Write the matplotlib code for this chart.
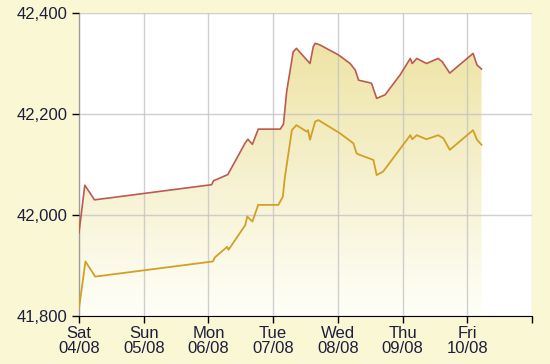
import numpy as np
import matplotlib.pyplot as plt
from matplotlib.colors import LinearSegmentedColormap

# day offsets from Sat 04/08
sell_x = [0.0, 0.09, 0.24, 2.05, 2.08, 2.12, 2.30, 2.57, 2.61, 2.68, 2.77, 3.11, 3.16, 3.21,
          3.31, 3.36, 3.57, 3.62, 3.65, 3.72, 4.01, 4.19, 4.27, 4.32, 4.52, 4.60, 4.73, 4.96,
          5.12, 5.15, 5.22, 5.37, 5.55, 5.61, 5.73, 6.09, 6.15, 6.22]
sell_y = [41965, 42059, 42030, 42060, 42068, 42070, 42080, 42143, 42150, 42140, 42170, 42170, 42180, 42245,
          42323, 42330, 42300, 42333, 42340, 42337, 42317, 42300, 42287, 42267, 42261, 42231, 42238, 42277,
          42310, 42300, 42310, 42300, 42310, 42304, 42281, 42320, 42297, 42289]

buy_x = [0.0, 0.10, 0.25, 2.07, 2.10, 2.29, 2.31, 2.57, 2.60, 2.68, 2.77, 3.08, 3.15, 3.18, 3.21,
         3.29, 3.36, 3.52, 3.54, 3.57, 3.65, 3.70, 4.03, 4.24, 4.29, 4.34, 4.55, 4.60, 4.70,
         5.12, 5.15, 5.22, 5.37, 5.55, 5.63, 5.73, 6.09, 6.15, 6.22]
buy_y = [41815, 41908, 41878, 41908, 41916, 41937, 41931, 41980, 41997, 41987, 42020, 42020, 42036, 42073, 42099,
         42168, 42178, 42165, 42168, 42149, 42185, 42188, 42162, 42142, 42122, 42119, 42109, 42079, 42086,
         42158, 42150, 42158, 42150, 42158, 42152, 42129, 42168, 42149, 42139]

days = ['Sat\n04/08', 'Sun\n05/08', 'Mon\n06/08', 'Tue\n07/08', 'Wed\n08/08', 'Thu\n09/08', 'Fri\n10/08']
y_ticks = [41800, 42000, 42200, 42400]

plt.rcParams['font.family'] = ['Liberation Sans', 'DejaVu Sans']

fig = plt.figure(figsize=(5.5, 3.64), dpi=100, facecolor='#FAF7D4')
ax = fig.add_axes([0.1436, 0.1319, 0.8236, 0.8324])
ax.set_facecolor('white')

# gradient fill under the sell line
ymin, ymax = 41800, max(sell_y)
poly = ax.fill_between(sell_x, sell_y, ymin, color='none', lw=0)
cmap = LinearSegmentedColormap.from_list('fade', ['#FFFFF8', '#F6F1D0', '#EEE4A6'])
grad = np.linspace(0, 1, 256).reshape(-1, 1)
img = ax.imshow(grad, cmap=cmap, origin='lower', aspect='auto',
                extent=[sell_x[0], sell_x[-1], ymin, ymax], zorder=1)
img.set_clip_path(poly.get_paths()[0], transform=ax.transData)

ax.plot(sell_x, sell_y, color='#BC5A52', lw=1.2, zorder=3)
ax.plot(buy_x, buy_y, color='#D2A025', lw=1.3, zorder=3)

ax.set_xlim(0, 7)
ax.set_ylim(41800, 42400)
ax.set_xticks(range(8))
ax.set_xticklabels(days + [''])
ax.set_yticks(y_ticks)
ax.set_yticklabels([f'{v:,}' for v in y_ticks])
ax.set_axisbelow(False)
ax.grid(True, color='#C4C4C4', lw=1.0, alpha=0.8)

ax.spines['top'].set_visible(False)
ax.spines['right'].set_visible(False)
ax.tick_params(direction='out', length=5, width=1, colors='black',
               labelsize=12, labelcolor='#1E1E3C', pad=3)
ax.tick_params(axis='x', pad=2)
for lab in ax.get_xticklabels():
    lab.set_linespacing(1.0)

fig.savefig('out.png', dpi=100, facecolor=fig.get_facecolor())
